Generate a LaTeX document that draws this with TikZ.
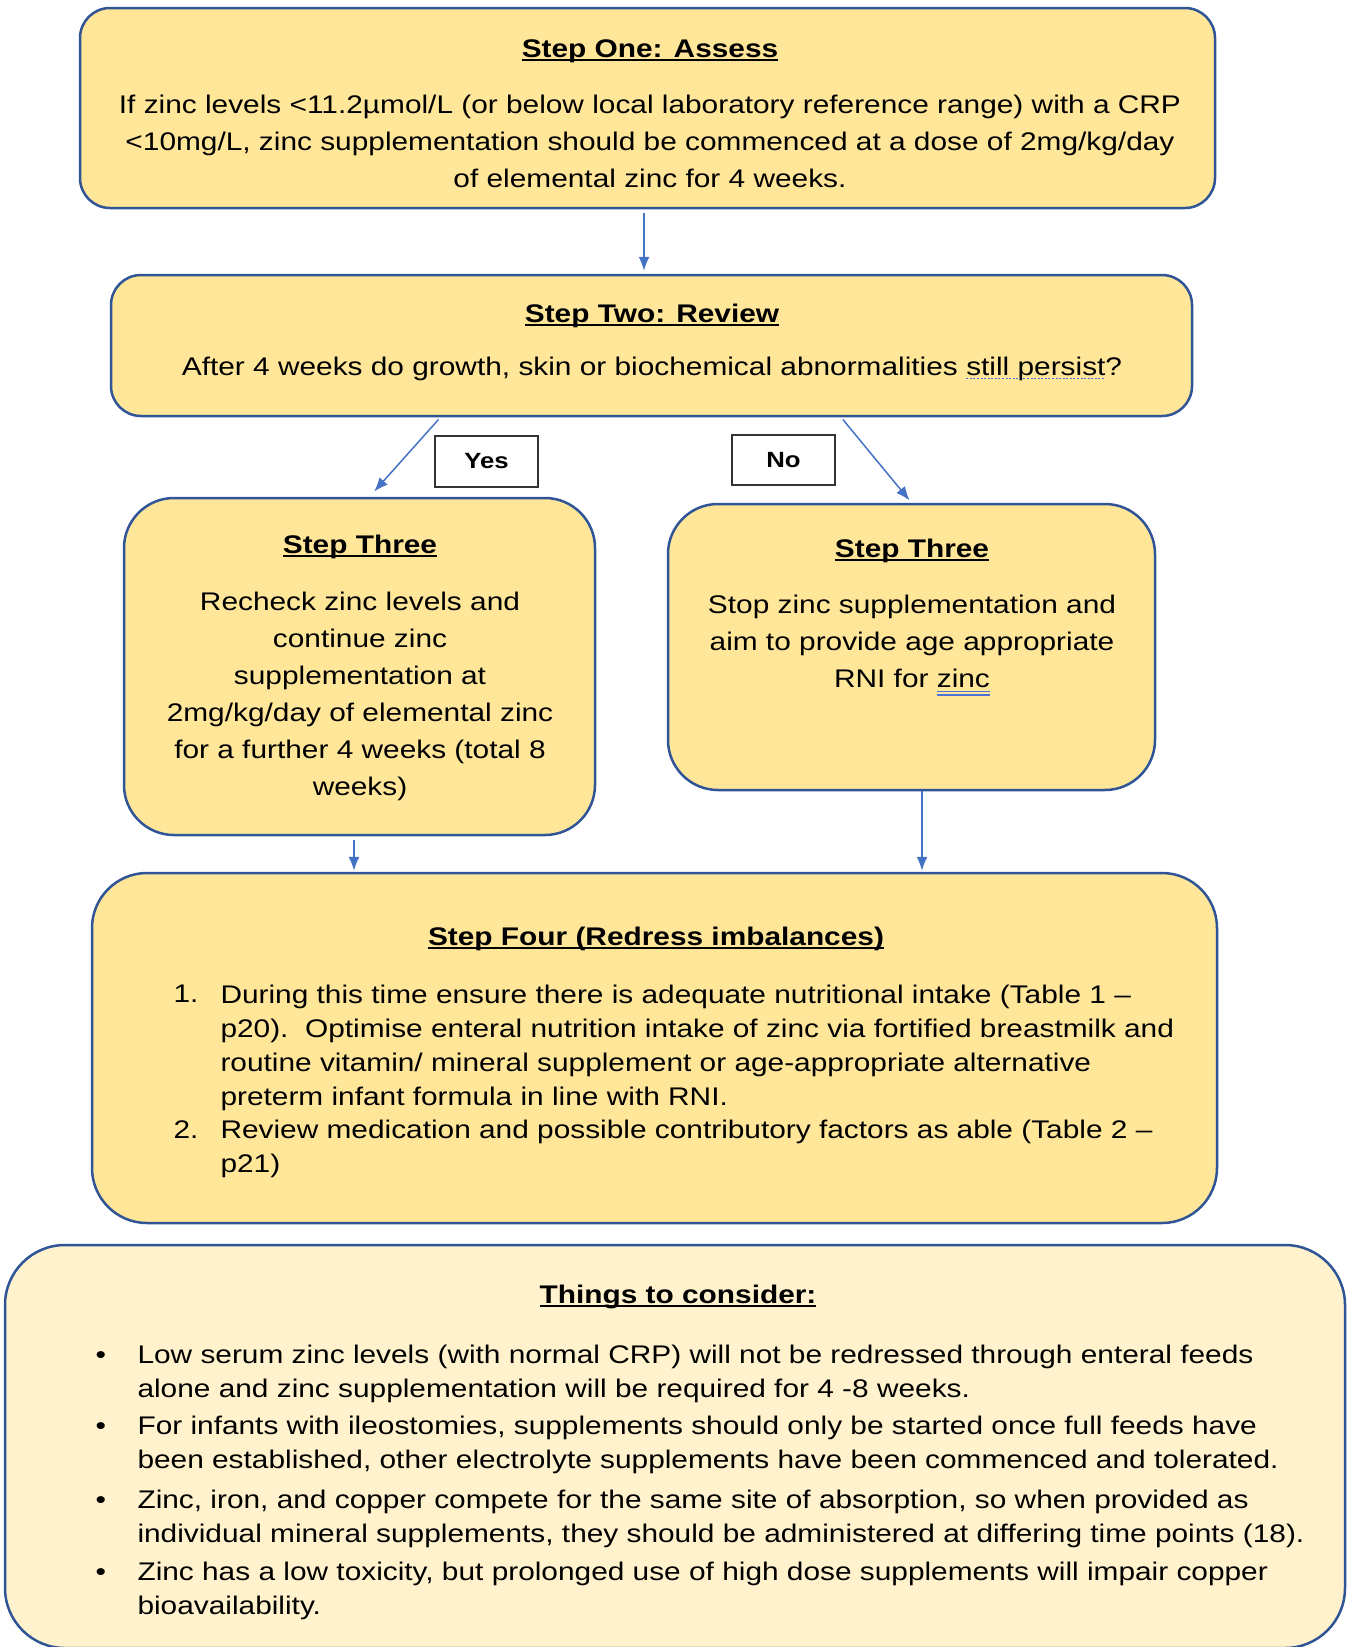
\documentclass[tikz,border=0pt]{standalone}
\usepackage{fontspec}
\setmainfont{Liberation Sans}[FakeStretch=1.17]
\usetikzlibrary{arrows.meta, positioning}

\definecolor{stepfill}{HTML}{FFE699}
\definecolor{notefill}{HTML}{FFF2CC}
\definecolor{stepline}{HTML}{2F5597}
\definecolor{flowblue}{HTML}{4472C4}
\definecolor{markblue}{HTML}{4F6FD8}

\newcommand{\bodyfont}{\fontsize{25.5}{37}\selectfont}
\newcommand{\listfont}{\fontsize{25.5}{34}\selectfont}
\newcommand{\steptitle}[1]{\setbox0\hbox{\bfseries #1}\rlap{\rule[-4pt]{\wd0}{2pt}}\box0}
\newcommand{\dotmark}[1]{\setbox0\hbox{#1}\rlap{\raisebox{-4pt}{\color{markblue}\hbox to\wd0{\xleaders\hbox to 3.5pt{\rule{2pt}{1.5pt}\hss}\hfill}}}\box0}
\newcommand{\dblmark}[1]{\setbox0\hbox{#1}\rlap{\color{markblue}\rule[-5pt]{\wd0}{1.2pt}}\rlap{\color{markblue}\rule[-8.5pt]{\wd0}{1.2pt}}\box0}

\tikzset{
  stepbox/.style={draw=stepline, line width=2.5pt, fill=stepfill},
  answerbox/.style={draw=black!80, line width=1.5pt, fill=white,
    font=\fontsize{22}{26}\selectfont\bfseries},
  flow/.style={draw=flowblue, line width=1.5pt, -{Latex[length=14pt,width=11pt]}}
}

\begin{document}
\begin{tikzpicture}[x=1pt, y=-1pt]
  \useasboundingbox (0,0) rectangle (1355,1647);

  % Draw boxes
  \node[stepbox, rounded corners=30pt, minimum width=1135pt, minimum height=200pt] (one) at (647.5,108) {};
  \node[stepbox, rounded corners=30pt, minimum width=1081pt, minimum height=141pt] (two) at (651.5,345.5) {};
  \node[stepbox, rounded corners=50pt, minimum width=471pt, minimum height=337pt] (threeY) at (359.5,666.5) {};
  \node[stepbox, rounded corners=50pt, minimum width=487pt, minimum height=286pt] (threeN) at (911.5,647) {};
  \node[stepbox, rounded corners=55pt, minimum width=1125pt, minimum height=350pt] (four) at (654.5,1048) {};
  \node[stepbox, fill=notefill, rounded corners=60pt, minimum width=1340pt, minimum height=403pt] (notes) at (675,1446.5) {};

  % Yes / No labels
  \node[answerbox, minimum width=103pt, minimum height=51pt] (yes) at (486.5,461.5) {Yes};
  \node[answerbox, minimum width=103pt, minimum height=50pt] (no) at (783.5,460) {No};

  % Draw arrows
  \draw[flow, shorten <=4pt, shorten >=3pt] ([xshift=-3.5pt]one.south) -- ([xshift=-7.5pt]two.north);
  \draw[flow, shorten <=3pt, shorten >=7pt] ([xshift=-211pt]two.south) -- ([xshift=10pt]threeY.north);
  \draw[flow, shorten <=3pt, shorten >=3pt] ([xshift=189.5pt]two.south) -- (threeN.north);
  \draw[flow, shorten <=4pt, shorten >=1pt] ([xshift=-5.5pt]threeY.south) -- ([xshift=-300.5pt]four.north);
  \draw[flow, shorten >=1pt] ([xshift=10.5pt]threeN.south) -- ([xshift=267.5pt]four.north);

  % Step One (anchor = last baseline)
  \node[anchor=base, font=\bodyfont] at (650,57) {\steptitle{Step One: Assess}};
  \node[anchor=base, font=\bodyfont, align=center] at (650,187)
    {If zinc levels <11.2µmol/L (or below local laboratory reference range) with a CRP\\
     <10mg/L, zinc supplementation should be commenced at a dose of 2mg/kg/day\\
     of elemental zinc for 4 weeks.};

  % Step Two
  \node[anchor=base, font=\bodyfont] at (652,322) {\steptitle{Step Two: Review}};
  \node[anchor=base, font=\bodyfont] at (652,375)
    {After 4 weeks do growth, skin or biochemical abnormalities \dotmark{still persist}?};

  % Step Three (yes)
  \node[anchor=base, font=\bodyfont] at (360,553) {\steptitle{Step Three}};
  \node[anchor=base, font=\bodyfont, align=center] at (360,795)
    {Recheck zinc levels and\\
     continue zinc\\
     supplementation at\\
     2mg/kg/day of elemental zinc\\
     for a further 4 weeks (total 8\\
     weeks)};

  % Step Three (no)
  \node[anchor=base, font=\bodyfont] at (912,557) {\steptitle{Step Three}};
  \node[anchor=base, font=\bodyfont, align=center] at (912,687)
    {Stop zinc supplementation and\\
     aim to provide age appropriate\\
     RNI for \dblmark{zinc}};

  % Step Four
  \node[anchor=base, font=\bodyfont] at (656,945) {\steptitle{Step Four (Redress imbalances)}};
  \node[anchor=base west, font=\listfont] at (170,1002) {1.};
  \node[anchor=base west, font=\listfont, align=left] at (217,1105)
    {During this time ensure there is adequate nutritional intake (Table 1 –\\
     p20).\ \ Optimise enteral nutrition intake of zinc via fortified breastmilk and\\
     routine vitamin/ mineral supplement or age-appropriate alternative\\
     preterm infant formula in line with RNI.};
  \node[anchor=base west, font=\listfont] at (170,1138) {2.};
  \node[anchor=base west, font=\listfont, align=left] at (217,1172)
    {Review medication and possible contributory factors as able (Table 2 –\\
     p21)};

  % Things to consider
  \node[anchor=base, font=\bodyfont] at (678,1303) {\steptitle{Things to consider:}};
  \foreach \y/\txt in {
      1363/{Low serum zinc levels (with normal CRP) will not be redressed through enteral feeds\\alone and zinc supplementation will be required for 4 -8 weeks.},
      1434/{For infants with ileostomies, supplements should only be started once full feeds have\\been established, other electrolyte supplements have been commenced and tolerated.},
      1508/{Zinc, iron, and copper compete for the same site of absorption, so when provided as\\individual mineral supplements, they should be administered at differing time points (18).},
      1580/{Zinc has a low toxicity, but prolonged use of high dose supplements will impair copper\\bioavailability.}}
  {
    \node[anchor=base west, font=\listfont] at (92,\y) {•};
    \node[anchor=base west, font=\listfont, align=left] at (134,\y+34) {\txt};
  }

\end{tikzpicture}
\end{document}
